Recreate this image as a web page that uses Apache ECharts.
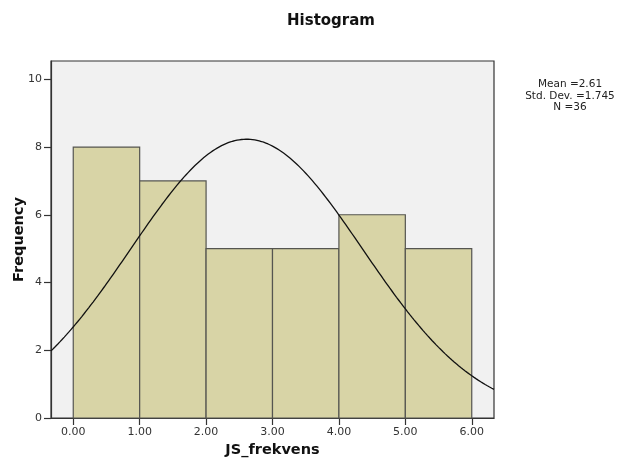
<!DOCTYPE html>
<html>
<head>
<meta charset="utf-8">
<script src="https://cdn.jsdelivr.net/npm/echarts@6/dist/echarts.min.js"></script>
<style>
  html, body { margin: 0; padding: 0; background: #fff; }
  #chart { width: 618px; height: 459px; }
</style>
</head>
<body>
<div id="chart"></div>
<script>
// Histogram of JS_frekvens: bin edges and counts per bin
const binStarts = [0, 1, 2, 3, 4, 5];
const binEnds = [1, 2, 3, 4, 5, 6];
const binCounts = [8, 7, 5, 5, 6, 5];

// Summary statistics shown in the side note
const statMean = 2.61;
const statStdDev = 1.745;
const statN = 36;

// Axis tick labels
const xTicks = [0, 1, 2, 3, 4, 5, 6];
const yTicks = [0, 2, 4, 6, 8, 10];

const xMin = -0.335, xMax = 6.335, yMax = 10.54;
const binWidth = 1;

// Normal curve scaled to the histogram (N * bin width * density)
const curve = [];
const steps = 200;
for (let i = 0; i <= steps; i++) {
  const x = xMin + (xMax - xMin) * i / steps;
  const z = (x - statMean) / statStdDev;
  const y = statN * binWidth * Math.exp(-0.5 * z * z) / (statStdDev * Math.sqrt(2 * Math.PI));
  curve.push([x, y]);
}

const bars = binStarts.map((s, i) => [s, binEnds[i], binCounts[i]]);
const font = 'DejaVu Sans';

const chart = echarts.init(document.getElementById('chart'), null, { renderer: 'canvas' });
chart.setOption({
  animation: false,
  backgroundColor: '#ffffff',
  title: {
    text: 'Histogram',
    left: 326, top: 9, textAlign: 'center',
    textStyle: { fontFamily: font, fontSize: 15, fontWeight: 'bold', color: '#111' }
  },
  grid: {
    left: 51, top: 61, width: 443, height: 357,
    outerBoundsMode: 'none', containLabel: false,
    show: true, backgroundColor: '#f1f1f1', borderColor: '#333', borderWidth: 1.2
  },
  xAxis: {
    type: 'value', min: xMin, max: xMax,
    name: 'JS_frekvens', nameLocation: 'middle', nameGap: 25, nameMoveOverlap: false,
    nameTextStyle: { fontFamily: font, fontSize: 14.5, fontWeight: 'bold', color: '#111' },
    splitLine: { show: false },
    axisLine: { show: true, onZero: false, lineStyle: { color: '#333', width: 1.2 } },
    axisTick: { show: true, inside: false, length: 7, customValues: xTicks, lineStyle: { color: '#333', width: 1.2 } },
    axisLabel: {
      customValues: xTicks, margin: 9,
      fontFamily: font, fontSize: 11, color: '#333',
      formatter: v => v.toFixed(2)
    }
  },
  yAxis: {
    type: 'value', min: 0, max: yMax,
    name: 'Frequency', nameLocation: 'middle', nameGap: 24, nameMoveOverlap: false,
    nameTextStyle: { fontFamily: font, fontSize: 14.5, fontWeight: 'bold', color: '#111' },
    splitLine: { show: false },
    axisLine: { show: true, onZero: false, lineStyle: { color: '#333', width: 1.2 } },
    axisTick: { show: true, inside: false, length: 7, customValues: yTicks, lineStyle: { color: '#333', width: 1.2 } },
    axisLabel: {
      customValues: yTicks, margin: 9,
      fontFamily: font, fontSize: 11, color: '#333'
    }
  },
  series: [
    {
      type: 'custom',
      data: bars,
      encode: { x: [0, 1], y: 2 },
      renderItem: function (params, api) {
        const p0 = api.coord([api.value(0), api.value(2)]);
        const p1 = api.coord([api.value(1), 0]);
        return {
          type: 'rect',
          shape: { x: p0[0], y: p0[1], width: p1[0] - p0[0], height: p1[1] - p0[1] },
          style: { fill: '#d8d4a6', stroke: '#555550', lineWidth: 1.2 }
        };
      },
      z: 2
    },
    {
      type: 'line',
      data: curve,
      showSymbol: false,
      smooth: false,
      clip: true,
      lineStyle: { color: '#111', width: 1.3 },
      z: 3
    }
  ],
  graphic: [
    {
      type: 'text', x: 570, y: 79,
      style: {
        text: 'Mean =' + statMean.toFixed(2) + '\nStd. Dev. =' + statStdDev.toFixed(3) + '\nN =' + statN,
        align: 'center', verticalAlign: 'top',
        font: '10.5px "DejaVu Sans"', lineHeight: 11.5, fill: '#222'
      }
    }
  ]
});
</script>
</body>
</html>
